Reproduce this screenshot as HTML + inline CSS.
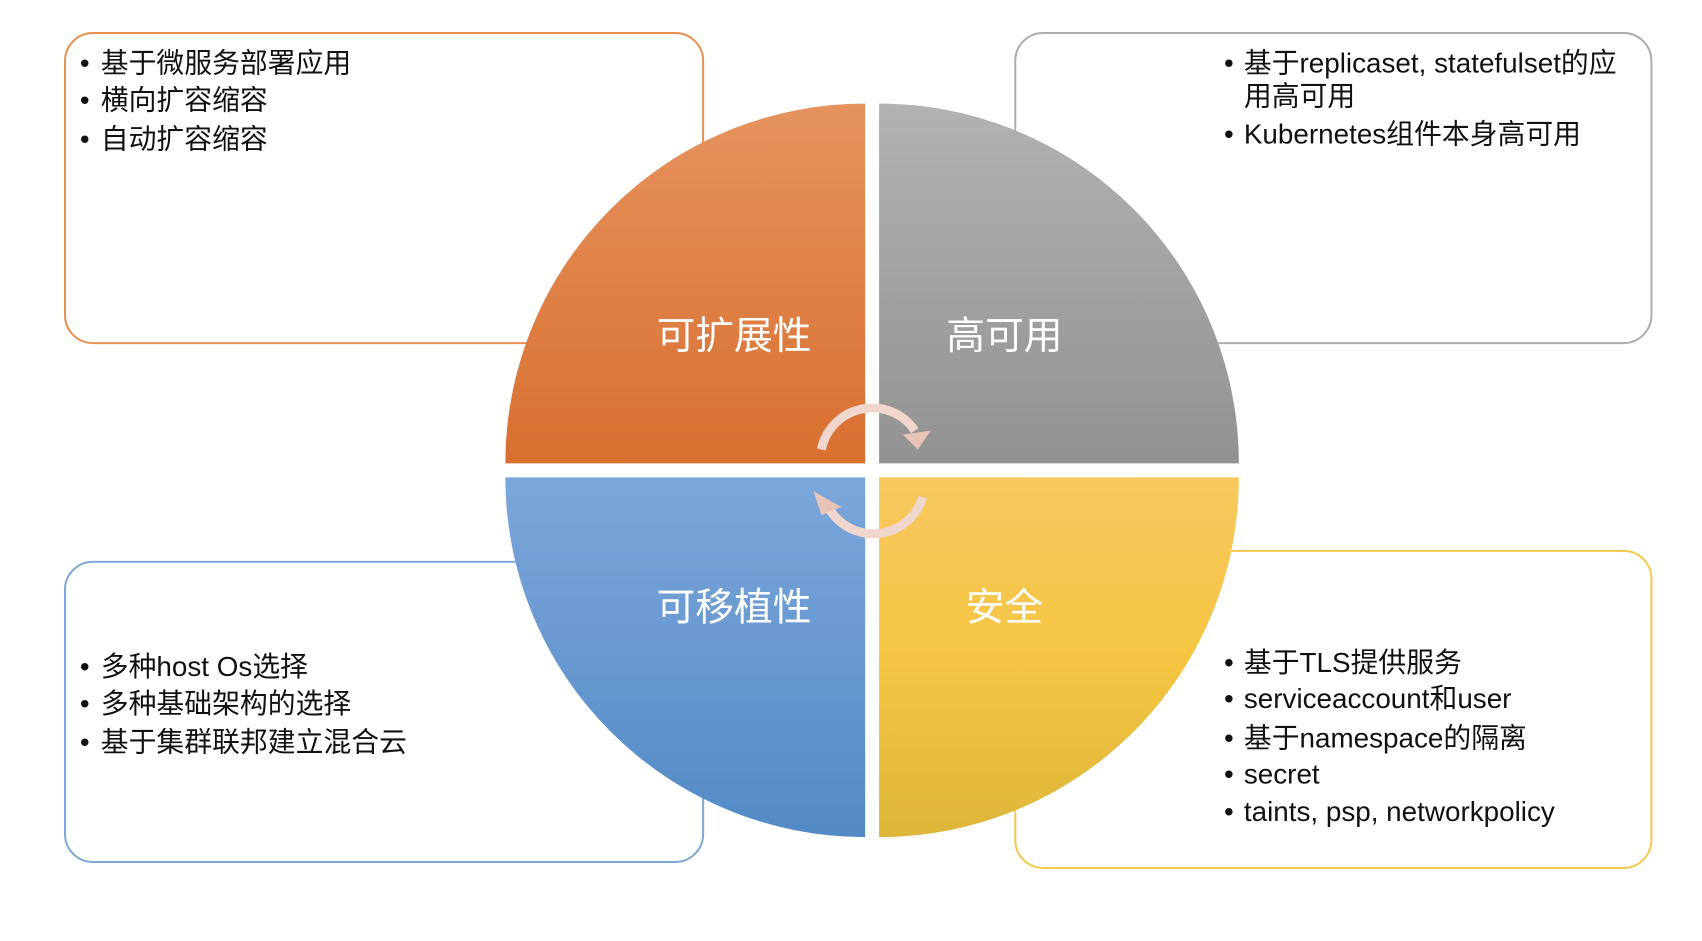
<!DOCTYPE html>
<html><head><meta charset="utf-8"><style>
html,body{margin:0;padding:0;background:#fff;}
svg text{font-family:"Liberation Sans","Noto Sans CJK SC",sans-serif;}
</style></head><body>
<svg width="1702" height="936" viewBox="0 0 1702 936" xmlns="http://www.w3.org/2000/svg">
<defs>
<linearGradient id="gO" x1="0" y1="0" x2="0" y2="1"><stop offset="0" stop-color="#e6935f"/><stop offset="1" stop-color="#d87030"/></linearGradient>
<linearGradient id="gG" x1="0" y1="0" x2="0" y2="1"><stop offset="0" stop-color="#b2b2b2"/><stop offset="1" stop-color="#929292"/></linearGradient>
<linearGradient id="gB" x1="0" y1="0" x2="0" y2="1"><stop offset="0" stop-color="#7ca7da"/><stop offset="1" stop-color="#538ac6"/></linearGradient>
<linearGradient id="gY" x1="0" y1="0" x2="0" y2="1"><stop offset="0" stop-color="#f6c85f"/><stop offset="0.5" stop-color="#f5c542"/><stop offset="1" stop-color="#ddb63a"/></linearGradient>
</defs>
<g transform="translate(65,33) scale(0.994) translate(-65,-33)">
<rect x="65" y="33" width="642" height="312" rx="28" fill="none" stroke="#e8904f" stroke-width="2"/>
<rect x="1021" y="33" width="640" height="312" rx="28" fill="none" stroke="#acacac" stroke-width="2"/>
<rect x="65" y="565" width="642" height="302" rx="28" fill="none" stroke="#7aa6da" stroke-width="2"/>
<rect x="1021" y="554" width="640" height="319" rx="28" fill="none" stroke="#f6c84a" stroke-width="2"/>
<path d="M870,466 L870,104 A362,362 0 0 0 508,466 Z" fill="url(#gO)"/>
<path d="M884,466 L884,104 A362,362 0 0 1 1246,466 Z" fill="url(#gG)"/>
<path d="M870,480 L870,842 A362,362 0 0 1 508,480 Z" fill="url(#gB)"/>
<path d="M884,480 L884,842 A362,362 0 0 0 1246,480 Z" fill="url(#gY)"/>
<g fill="#fff" font-size="39" text-anchor="middle">
<text x="738" y="351">可扩展性</text>
<text x="1010" y="351">高可用</text>
<text x="738" y="624">可移植性</text>
<text x="1010" y="624">安全</text>
</g>
<g fill="none" stroke="#f0d6cc" stroke-width="9">
<path d="M826,452 A52,52 0 0 1 920,433"/>
<path d="M928,500 A52,52 0 0 1 834,512"/>
</g>
<polygon points="908,437 936,433 923,452" fill="#e8c4b8"/>
<polygon points="846,510 818,494 826,518" fill="#e8c4b8"/>
<g font-size="28" fill="#111">
<text>
<tspan x="80" y="73">•</tspan><tspan x="101" y="73">基于微服务部署应用</tspan>
<tspan x="80" y="110">•</tspan><tspan x="101" y="110">横向扩容缩容</tspan>
<tspan x="80" y="149">•</tspan><tspan x="101" y="149">自动扩容缩容</tspan></text>
<text>
<tspan x="1231" y="73">•</tspan><tspan x="1251" y="73">基于replicaset, statefulset的应</tspan>
<tspan x="1251" y="106">用高可用</tspan>
<tspan x="1231" y="144">•</tspan><tspan x="1251" y="144">Kubernetes组件本身高可用</tspan></text>
<text>
<tspan x="80" y="680">•</tspan><tspan x="101" y="680">多种host Os选择</tspan>
<tspan x="80" y="717">•</tspan><tspan x="101" y="717">多种基础架构的选择</tspan>
<tspan x="80" y="756">•</tspan><tspan x="101" y="756">基于集群联邦建立混合云</tspan></text>
<text>
<tspan x="1231" y="676">•</tspan><tspan x="1251" y="676">基于TLS提供服务</tspan>
<tspan x="1231" y="712">•</tspan><tspan x="1251" y="712">serviceaccount和user</tspan>
<tspan x="1231" y="752">•</tspan><tspan x="1251" y="752">基于namespace的隔离</tspan>
<tspan x="1231" y="788">•</tspan><tspan x="1251" y="788">secret</tspan>
<tspan x="1231" y="826">•</tspan><tspan x="1251" y="826">taints, psp, networkpolicy</tspan></text>
</g>
</g>
</svg>
</body></html>
